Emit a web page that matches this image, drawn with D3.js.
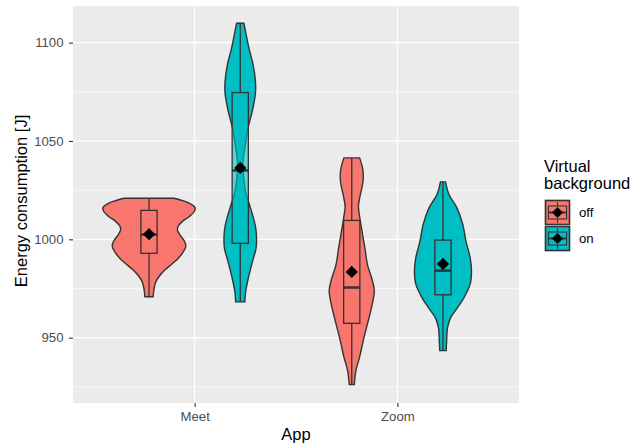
<!DOCTYPE html>
<html>
<head>
<meta charset="utf-8">
<script src="https://cdn.jsdelivr.net/npm/d3@7"></script>
<style>
body{margin:0;background:#fff;}
text{font-family:"Liberation Sans",Arial,sans-serif;}
</style>
</head>
<body>
<svg id="chart"></svg>
<script>
// categories
var apps = ["Meet", "Zoom"];
var backgrounds = ["off", "on"];
var colors = ["#F8766D", "#00BFC4"];

// violin outlines: [energy, relative half width]
var meetOff = [[1020.9,0.54],[1019.5,0.75],[1018.0,0.90],[1016.2,1.00],[1014.0,0.98],[1011.5,0.87],[1009.0,0.72],[1006.5,0.63],[1004.5,0.62],[1002.0,0.68],[999.0,0.77],[996.5,0.80],[993.5,0.74],[990.5,0.64],[987.5,0.50],[984.5,0.35],[981.5,0.23],[978.5,0.15],[975.0,0.11],[970.8,0.09]];
var meetOn = [[1109.8,0.08],[1103.9,0.13],[1097.1,0.19],[1088.7,0.28],[1080.2,0.33],[1074.3,0.33],[1065.0,0.26],[1056.6,0.17],[1046.5,0.10],[1039.7,0.06],[1033.8,0.065],[1023.7,0.12],[1016.9,0.21],[1006.7,0.33],[1000.0,0.355],[994.9,0.34],[989.9,0.28],[979.7,0.17],[973.0,0.115],[968.2,0.10]];
var zoomOff = [[1041.4,0.17],[1035.5,0.24],[1029.5,0.245],[1021.9,0.18],[1016.9,0.145],[1011.8,0.17],[1001.7,0.24],[994.9,0.29],[987.3,0.34],[978.9,0.45],[973.8,0.49],[965.4,0.43],[956.9,0.34],[948.5,0.25],[940.1,0.17],[933.3,0.09],[926.2,0.055]];
var zoomOn = [[1029.2,0.055],[1022.8,0.13],[1016.1,0.30],[1007.6,0.43],[999.1,0.50],[990.7,0.59],[983.9,0.62],[977.2,0.59],[970.5,0.46],[965.4,0.32],[960.3,0.17],[955.3,0.10],[948.5,0.08],[943.4,0.07]];

// boxplot stats, order: Meet off, Meet on, Zoom off, Zoom on
var groupApp = ["Meet", "Meet", "Zoom", "Zoom"];
var groupBg = ["off", "on", "off", "on"];
var minV = [970.8, 968.2, 926.2, 943.4];
var q1V = [992.9, 998.0, 957.3, 971.8];
var medV = [1002.4, 1035.0, 975.5, 984.1];
var q3V = [1014.7, 1074.6, 1009.6, 999.6];
var maxV = [1020.9, 1109.8, 1041.4, 1029.2];
var meanV = [1002.6, 1036.3, 983.4, 987.5];
var profiles = [meetOff, meetOn, zoomOff, zoomOn];

var yTicks = [950, 1000, 1050, 1100];
var yMinor = [925, 975, 1025, 1075];

var screen = {width:644, height:446};
var panel = {left:73, right:519, top:6, bottom:403};

var svg = d3.select("#chart").attr("width", screen.width).attr("height", screen.height);

var x = d3.scalePoint().domain(apps).range([panel.left, panel.right]).padding(0.6);
var step = x.step();
var dodge = d3.scaleOrdinal().domain(backgrounds).range([-0.225*step, 0.225*step]);
var fill = d3.scaleOrdinal().domain(backgrounds).range(colors);
var y = d3.scaleLinear().domain([916.8, 1118.6]).range([panel.bottom, panel.top]);
var w = d3.scaleLinear().domain([0, 1]).range([0, 0.227*step]);

// panel
svg.append("rect").attr("x", panel.left).attr("y", panel.top)
  .attr("width", panel.right-panel.left).attr("height", panel.bottom-panel.top)
  .style("fill", "#EBEBEB");
svg.selectAll(".minor").data(yMinor).enter().append("line")
  .attr("x1", panel.left).attr("x2", panel.right)
  .attr("y1", function(d){return y(d)}).attr("y2", function(d){return y(d)})
  .style("stroke", "#fff").style("stroke-width", 0.6);
svg.selectAll(".major").data(yTicks).enter().append("line")
  .attr("x1", panel.left).attr("x2", panel.right)
  .attr("y1", function(d){return y(d)}).attr("y2", function(d){return y(d)})
  .style("stroke", "#fff").style("stroke-width", 1.2);
svg.selectAll(".vmajor").data(apps).enter().append("line")
  .attr("y1", panel.top).attr("y2", panel.bottom)
  .attr("x1", function(d){return x(d)}).attr("x2", function(d){return x(d)})
  .style("stroke", "#fff").style("stroke-width", 1.2);

// violins
var g = svg.append("g");
profiles.forEach(function(prof, i){
  var cx = x(groupApp[i]) + dodge(groupBg[i]);
  var area = d3.area()
    .y(function(d){return y(d[0])})
    .x0(function(d){return cx - w(d[1])})
    .x1(function(d){return cx + w(d[1])})
    .curve(d3.curveCatmullRom);
  g.append("path").datum(prof).attr("d", area)
    .style("fill", fill(groupBg[i])).style("stroke", "#333").style("stroke-width", 1.4);
});

// boxplots
var bw = 0.08*step;
for (var i=0; i<4; i++) {
  var cx = x(groupApp[i]) + dodge(groupBg[i]);
  g.append("line").attr("x1", cx).attr("x2", cx).attr("y1", y(maxV[i])).attr("y2", y(q3V[i]))
    .style("stroke", "#333").style("stroke-width", 1.3);
  g.append("line").attr("x1", cx).attr("x2", cx).attr("y1", y(q1V[i])).attr("y2", y(minV[i]))
    .style("stroke", "#333").style("stroke-width", 1.3);
  g.append("rect").attr("x", cx-bw/2).attr("width", bw)
    .attr("y", y(q3V[i])).attr("height", y(q1V[i])-y(q3V[i]))
    .style("fill", fill(groupBg[i])).style("fill-opacity", 0.6)
    .style("stroke", "#333").style("stroke-width", 1.3);
  g.append("line").attr("x1", cx-bw/2).attr("x2", cx+bw/2).attr("y1", y(medV[i])).attr("y2", y(medV[i]))
    .style("stroke", "#333").style("stroke-width", 2.5);
  g.append("path").attr("d", d3.symbol(d3.symbolSquare, 75)())
    .attr("transform", "translate(" + cx + "," + y(meanV[i]) + ") rotate(45)")
    .style("fill", "#000");
}

// axes
var yAxis = d3.axisLeft(y).tickValues(yTicks).tickFormat(d3.format("d")).tickSize(4).tickPadding(5.5);
var ya = svg.append("g").attr("transform", "translate(" + panel.left + ",0)").call(yAxis);
var xAxis = d3.axisBottom(x).tickSize(4).tickPadding(5);
var xa = svg.append("g").attr("transform", "translate(0," + panel.bottom + ")").call(xAxis);
[ya, xa].forEach(function(a){
  a.select(".domain").remove();
  a.selectAll(".tick line").style("stroke", "#333").style("stroke-width", 1.1);
  a.selectAll(".tick text").style("fill", "#4D4D4D").style("font-size", "13.2px")
    .style("font-family", "'Liberation Sans', Arial, sans-serif");
});

svg.append("text").attr("x", (panel.left+panel.right)/2).attr("y", 440)
  .attr("text-anchor", "middle").style("font-size", "16.5px").text("App");
svg.append("text").attr("transform", "translate(27,201) rotate(-90)")
  .attr("text-anchor", "middle").style("font-size", "16.5px").text("Energy consumption [J]");

// legend
var leg = svg.append("g");
leg.append("text").attr("x", 544).attr("y", 171.5).style("font-size", "16.5px").text("Virtual");
leg.append("text").attr("x", 544).attr("y", 189).style("font-size", "16.5px").text("background");
var ks = 26;
backgrounds.forEach(function(b, i){
  var kx = 544.5, ky = 199.5 + i*ks;
  var kc = kx + ks/2, kyc = ky + ks/2;
  leg.append("rect").attr("x", kx).attr("y", ky).attr("width", ks).attr("height", ks).style("fill", "#F2F2F2");
  leg.append("rect").attr("x", kx+1).attr("y", ky+1).attr("width", ks-2).attr("height", ks-2)
    .style("fill", fill(b)).style("stroke", "#333").style("stroke-width", 1.6);
  leg.append("line").attr("x1", kc).attr("x2", kc).attr("y1", ky+ks*0.1).attr("y2", ky+ks*0.9)
    .style("stroke", "#333").style("stroke-width", 1.1);
  leg.append("rect").attr("x", kx+ks*0.15).attr("y", ky+ks*0.25).attr("width", ks*0.7).attr("height", ks*0.5)
    .style("fill", fill(b)).style("stroke", "#333").style("stroke-width", 1.1);
  leg.append("line").attr("x1", kx+ks*0.15).attr("x2", kx+ks*0.85).attr("y1", kyc).attr("y2", kyc)
    .style("stroke", "#333").style("stroke-width", 2);
  leg.append("path").attr("d", d3.symbol(d3.symbolSquare, 60)())
    .attr("transform", "translate(" + kc + "," + kyc + ") rotate(45)").style("fill", "#000");
  leg.append("text").attr("x", 579).attr("y", kyc + 4.6).style("font-size", "13.2px").text(b);
});
</script>
</body>
</html>
